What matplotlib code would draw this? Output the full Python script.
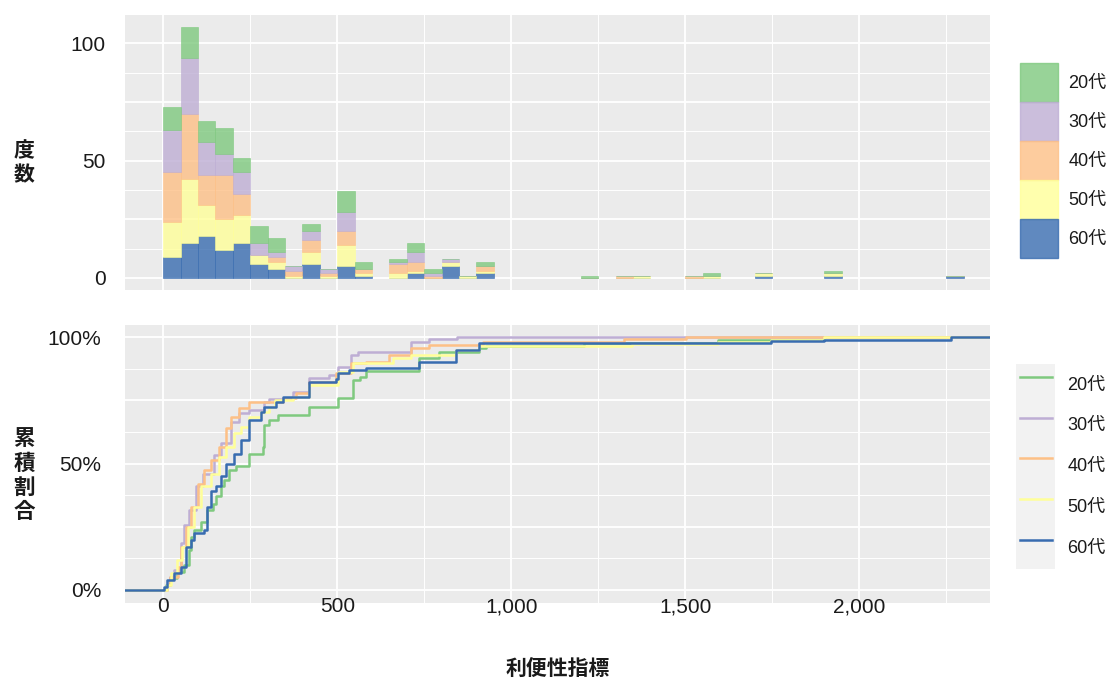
import matplotlib.pyplot as plt
from matplotlib.patches import Patch, Rectangle
from matplotlib.lines import Line2D
from matplotlib.ticker import FuncFormatter, MultipleLocator

plt.rcParams['font.family'] = ['Liberation Sans', 'Noto Sans CJK JP']

groups = ['20代', '30代', '40代', '50代', '60代']
colors = ['#7FC97F', '#BEAED4', '#FDC086', '#FFFF99', '#386CB0']

# histogram (binwidth 50), left edge of each non-empty bin
bin_starts = [0, 50, 100, 150, 200, 250, 300, 350, 400, 450, 500, 550, 650, 700,
              750, 800, 850, 900, 1200, 1300, 1350, 1500, 1550, 1700, 1900, 2250]
counts_20 = [10, 13, 9, 11, 6, 7, 6, 0, 3, 0, 9, 3, 1, 4, 2, 0, 0, 2, 1, 0, 0, 0, 1, 0, 1, 0]
counts_30 = [18, 24, 14, 9, 9, 5, 2, 2, 4, 2, 8, 0, 1, 4, 1, 1, 0, 0, 0, 0, 0, 0, 0, 0, 0, 0]
counts_40 = [21, 28, 13, 19, 9, 0, 2, 2, 5, 1, 6, 2, 4, 4, 1, 0, 0, 2, 0, 1, 0, 1, 0, 0, 0, 0]
counts_50 = [15, 27, 13, 13, 12, 4, 3, 1, 5, 1, 9, 1, 2, 1, 0, 2, 1, 1, 0, 0, 1, 0, 1, 1, 1, 0]
counts_60 = [9, 15, 18, 12, 15, 6, 4, 0, 6, 0, 5, 1, 0, 2, 0, 5, 0, 2, 0, 0, 0, 0, 0, 1, 1, 1]

# cumulative share: step positions and share after each step
ecdf_x_20 = [9, 20, 40, 60, 75, 80, 89, 108, 127, 142, 151, 166, 175, 189, 209, 247, 286, 290,
             305, 330, 420, 501, 546, 565, 584, 736, 793, 908, 927, 1210, 1593, 1899]
ecdf_y_20 = [.02, .046, .07, .10, .16, .21, .237, .27, .317, .34, .37, .41, .435, .475, .49, .54,
             .567, .653, .673, .693, .725, .759, .83, .844, .866, .917, .943, .956, .966, .978, .989, 1.0]
ecdf_x_30 = [12, 20, 32, 51, 60, 75, 94, 113, 147, 166, 194, 218, 247, 290, 305, 372, 420, 477,
             501, 539, 560, 712, 764, 845]
ecdf_y_30 = [.02, .05, .08, .185, .257, .317, .41, .46, .534, .58, .666, .70, .712, .745, .757,
             .785, .838, .851, .884, .93, .943, .983, .992, 1.0]
ecdf_x_40 = [10, 20, 41, 51, 65, 80, 99, 118, 137, 161, 180, 194, 218, 247, 343, 381, 420, 496,
             539, 582, 650, 712, 764, 918, 1325, 1502]
ecdf_y_40 = [.02, .05, .092, .171, .25, .33, .42, .475, .514, .567, .64, .686, .719, .745, .759,
             .778, .824, .857, .897, .903, .93, .956, .97, .983, .992, 1.0]
ecdf_x_50 = [10, 22, 40, 55, 70, 89, 108, 137, 161, 180, 204, 223, 247, 281, 305, 320, 372, 420,
             501, 544, 600, 659, 712, 841, 908, 1348, 1593, 1746, 1899]
ecdf_y_50 = [.02, .066, .12, .17, .25, .33, .41, .46, .527, .567, .62, .646, .686, .706, .725, .75,
             .765, .81, .864, .897, .90, .917, .93, .95, .965, .974, .983, .991, 1.0]
ecdf_x_60 = [3, 12, 32, 51, 65, 80, 89, 118, 127, 137, 151, 166, 180, 204, 223, 247, 281, 290,
             324, 343, 420, 496, 501, 535, 584, 736, 841, 908, 1746, 1899, 2263]
ecdf_y_60 = [.01, .04, .066, .092, .17, .198, .224, .237, .33, .39, .41, .45, .50, .54, .594, .673,
             .706, .725, .745, .765, .824, .837, .857, .87, .88, .903, .95, .976, .985, .99, 1.0]

counts = [counts_20, counts_30, counts_40, counts_50, counts_60]
ecdf_x = [ecdf_x_20, ecdf_x_30, ecdf_x_40, ecdf_x_50, ecdf_x_60]
ecdf_y = [ecdf_y_20, ecdf_y_30, ecdf_y_40, ecdf_y_50, ecdf_y_60]

xmin, xmax = -110, 2376
panel_bg = '#EBEBEB'
txt = '#1a1a1a'
cjk = ['Noto Sans CJK JP', 'DejaVu Sans']

fig = plt.figure(figsize=(11.15, 6.84), dpi=100)
ax1 = fig.add_axes([0.1121, 0.5753, 0.7758, 0.4035])
ax2 = fig.add_axes([0.1121, 0.1190, 0.7758, 0.4063])


def style(ax):
    ax.set_facecolor(panel_bg)
    for s in ax.spines.values():
        s.set_visible(False)
    ax.grid(which='major', color='white', lw=1.3)
    ax.grid(which='minor', color='white', lw=0.7)
    ax.set_axisbelow(True)
    ax.tick_params(which='both', length=0, labelsize=15, labelcolor=txt)
    ax.set_xlim(xmin, xmax)
    ax.xaxis.set_major_locator(MultipleLocator(500))
    ax.xaxis.set_minor_locator(MultipleLocator(250))


# stacked histogram: 60代 at bottom, 20代 on top
bottom = [0] * len(bin_starts)
for i in reversed(range(len(groups))):
    ax1.bar(bin_starts, counts[i], width=50, align='edge', bottom=bottom,
            color=colors[i], alpha=0.8, edgecolor=colors[i], lw=0.5)
    bottom = [b + c for b, c in zip(bottom, counts[i])]

style(ax1)
ax1.set_ylim(-5.35, 112.35)
ax1.set_yticks([0, 25, 50, 75, 100])
ax1.set_yticklabels(['0', '', '50', '', '100'])
ax1.yaxis.set_minor_locator(MultipleLocator(12.5))
ax1.tick_params(axis='y', pad=14)
ax1.tick_params(axis='x', labelbottom=False)

# cumulative share lines
for i in range(len(groups)):
    xs = [xmin] + ecdf_x[i] + [xmax]
    ys = [0] + ecdf_y[i] + [ecdf_y[i][-1]]
    ax2.plot(xs, ys, drawstyle='steps-post', color=colors[i], lw=1.8)

style(ax2)
ax2.set_ylim(-0.05, 1.05)
ax2.set_yticks([0, 0.25, 0.5, 0.75, 1.0])
ax2.set_yticklabels(['0%', '', '50%', '', '100%'])
ax2.yaxis.set_minor_locator(MultipleLocator(0.125))
ax2.tick_params(axis='y', pad=17)
ax2.tick_params(axis='x', pad=-4)
ax2.xaxis.set_major_formatter(FuncFormatter(lambda v, p: f'{int(v):,}'))

fig.text(0.0211, 0.762, '度\n数', ha='center', va='center', fontsize=15,
         fontweight='bold', linespacing=1.15, color=txt, family=cjk)
fig.text(0.0217, 0.305, '累\n積\n割\n合', ha='center', va='center', fontsize=15.5,
         fontweight='bold', linespacing=1.2, color=txt, family=cjk)
fig.text(0.5, 0.023, '利便性指標', ha='center', va='center', fontsize=15,
         fontweight='bold', color=txt, family=cjk)

# legends
h1 = [Patch(facecolor=c, edgecolor=c, alpha=0.8) for c in colors]
leg1 = fig.legend(h1, groups, loc='center left', bbox_to_anchor=(0.9148, 0.7654),
                  frameon=False, fontsize=13, handlelength=2.1, handleheight=2.95,
                  labelspacing=0, borderpad=0, borderaxespad=0, handletextpad=0.58)
for t in leg1.get_texts():
    t.set_color(txt)

fig.patches.append(Rectangle((1016 / 1115, 1 - 569 / 684), 39 / 1115, 205 / 684,
                             transform=fig.transFigure, facecolor='#F2F2F2',
                             edgecolor='none', zorder=0))
h2 = [Line2D([], [], color=c, lw=1.8) for c in colors]
leg2 = fig.legend(h2, groups, loc='center left', bbox_to_anchor=(0.9148, 0.3187),
                  frameon=False, fontsize=13, handlelength=1.77, handleheight=3.1,
                  labelspacing=0, borderpad=0, borderaxespad=0, handletextpad=0.84)
for t in leg2.get_texts():
    t.set_color(txt)

fig.savefig('out.png', dpi=100)
